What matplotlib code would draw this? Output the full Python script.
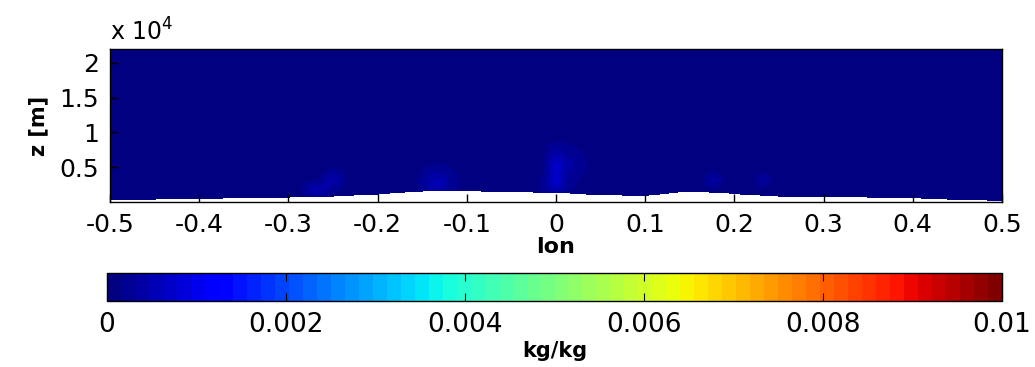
import numpy as np
import matplotlib
matplotlib.use("Agg")
import matplotlib.pyplot as plt
from matplotlib.ticker import FuncFormatter

# terrain profile (lon, height in m)
terrain_lon = [-0.5, -0.45, -0.4, -0.35, -0.3, -0.25, -0.2, -0.15, -0.1, -0.05,
               0.0, 0.05, 0.1, 0.15, 0.2, 0.25, 0.3, 0.35, 0.4, 0.45, 0.5]
terrain_z = [250, 350, 450, 550, 650, 800, 1100, 1500, 1550, 1400,
             1300, 1000, 900, 1500, 1150, 800, 700, 650, 550, 300, 150]

# moist blobs (centre lon, centre z, half widths, peak value kg/kg)
blob_lon = [-0.268, -0.25, -0.133, 0.0, 0.012, 0.0, 0.177, 0.232]
blob_z = [1800, 3300, 2800, 4800, 5500, 2500, 3100, 3100]
blob_wlon = [0.014, 0.011, 0.016, 0.008, 0.018, 0.014, 0.009, 0.008]
blob_wz = [1000, 1200, 2000, 2600, 2200, 1400, 1000, 900]
blob_amp = [0.00035, 0.00030, 0.00040, 0.00045, 0.00025, 0.00030, 0.00025, 0.00022]
background = 0.0001

cbar_ticks = [0, 0.002, 0.004, 0.006, 0.008, 0.01]
x_ticks = [-0.5, -0.4, -0.3, -0.2, -0.1, 0, 0.1, 0.2, 0.3, 0.4, 0.5]
y_ticks = [5000, 10000, 15000, 20000]

lon = np.linspace(-0.5, 0.5, 401)
z = np.linspace(0, 22000, 441)
LON, Z = np.meshgrid(lon, z)
q = np.full(LON.shape, background)
for i in range(len(blob_lon)):
    q += blob_amp[i] * np.exp(-((LON - blob_lon[i]) / blob_wlon[i]) ** 2
                              - ((Z - blob_z[i]) / blob_wz[i]) ** 2)
ground = np.interp(lon, terrain_lon, terrain_z)
q = np.ma.masked_where(Z < ground[None, :], q)

cmap = plt.get_cmap("jet", 64)

fig = plt.figure(figsize=(10.35, 3.67), dpi=100)
ax = fig.add_axes([0.1063, 0.4496, 0.8618, 0.4169])
cax = fig.add_axes([0.1034, 0.1798, 0.8647, 0.0763])

pc = ax.pcolormesh(lon, z, q, cmap=cmap, vmin=0, vmax=0.01, shading="nearest")
ax.set_xlim(-0.5, 0.5)
ax.set_ylim(0, 22000)
ax.set_xticks(x_ticks)
ax.set_xticklabels(["%g" % v for v in x_ticks])
ax.set_yticks(y_ticks)
ax.yaxis.set_major_formatter(FuncFormatter(lambda v, p: "%g" % (v / 1e4)))
ax.tick_params(direction="in", length=6, labelsize=18, pad=8, width=1)
ax.set_xlabel("lon", fontsize=16, fontweight="bold", labelpad=0)
ax.set_ylabel("z [m]", fontsize=15, fontweight="bold", labelpad=8)
for s in ax.spines.values():
    s.set_linewidth(1)
fig.text(0.106, 0.89, r"x 10$^4$", fontsize=17)

cb = fig.colorbar(pc, cax=cax, orientation="horizontal")
cb.set_ticks(cbar_ticks)
cb.set_ticklabels(["%g" % v for v in cbar_ticks])
cax.tick_params(direction="in", length=6, labelsize=19, pad=8, top=True)
cb.set_label("kg/kg", fontsize=15, fontweight="bold", labelpad=2)
cb.outline.set_linewidth(1)

fig.savefig("out.png", dpi=100)
